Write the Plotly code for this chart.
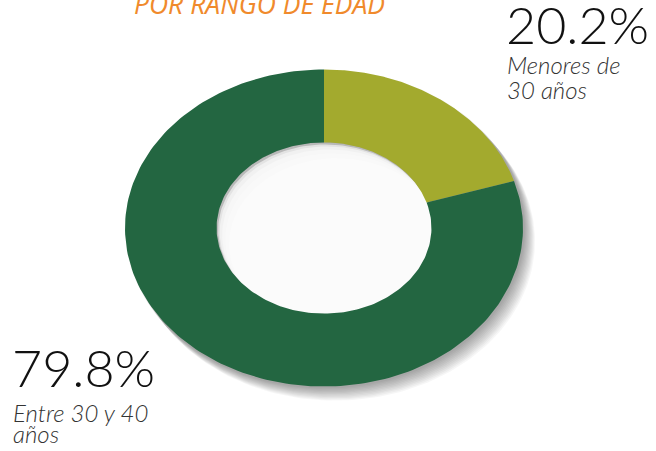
import numpy as np
import plotly.graph_objects as go

# data
labels = ["Menores de 30 años", "Entre 30 y 40 años"]
values = [20.2, 79.8]
colors = ["#a3aa2e", "#236641"]

# geometry (pixel space, y grows downward)
W, H = 656, 451
CX, CY = 324, 228
RX, RY = 199, 158.5
HOLE = 0.54


def ellipse(cx, cy, rx, ry, n=240):
    t = np.linspace(0, 2 * np.pi, n)
    return cx + rx * np.sin(t), cy - ry * np.cos(t)


def sector(a0, a1, n=200):
    t = np.linspace(a0, a1, n)
    xo = CX + RX * np.sin(t)
    yo = CY - RY * np.cos(t)
    xi = CX + RX * HOLE * np.sin(t[::-1])
    yi = CY - RY * HOLE * np.cos(t[::-1])
    return np.concatenate([xo, xi, xo[:1]]), np.concatenate([yo, yi, yo[:1]])


fig = go.Figure()

# soft outer shadow, offset down-right
for k in range(1, 12):
    x, y = ellipse(CX + 1.0 * k, CY + 1.2 * k, RX + 1, RY + 1)
    fig.add_trace(go.Scatter(x=x, y=y, mode="lines", fill="toself", line_width=0,
                             fillcolor="rgba(0,0,0,0.035)", hoverinfo="skip"))

# inner shadow of the hole (dark at upper-left edge)
x, y = ellipse(CX, CY, RX * HOLE, RY * HOLE)
fig.add_trace(go.Scatter(x=x, y=y, mode="lines", fill="toself", line_width=0,
                         fillcolor="#b9b9b9", hoverinfo="skip"))
for k, a in [(16, 0.35), (11, 0.35), (7, 0.4), (4, 0.5), (2, 0.6)]:
    x, y = ellipse(CX + 0.8 * k, CY + k, RX * HOLE, RY * HOLE)
    fig.add_trace(go.Scatter(x=x, y=y, mode="lines", fill="toself", line_width=0,
                             fillcolor=f"rgba(255,255,255,{a})", hoverinfo="skip"))

# donut slices, clockwise from 12 o'clock
total = sum(values)
start = 0.0
for lab, v, c in zip(labels, values, colors):
    end = start + 2 * np.pi * v / total
    x, y = sector(start, end)
    fig.add_trace(go.Scatter(x=x, y=y, mode="lines", fill="toself", line_width=0,
                             fillcolor=c, name=lab, hoverinfo="name"))
    start = end

num_font = dict(family="Lato", size=52, color="#111111", weight=300)
lab_font = dict(family="Lato", size=24, color="#333333", style="italic", weight=300)

ann = [
    dict(x=259, y=24, text="POR RANGO DE EDAD", yanchor="bottom", xanchor="center",
         font=dict(family="Open Sans", size=26.5, color="#f08a2c", style="italic")),
    dict(x=504, y=57, text=f"{values[0]}%", yanchor="bottom", font=num_font),
    dict(x=505, y=81, text="Menores de", yanchor="bottom", font=lab_font),
    dict(x=505, y=106, text="30 años", yanchor="bottom", font=lab_font),
    dict(x=10, y=400, text=f"{values[1]}%", yanchor="bottom", font=num_font),
    dict(x=11, y=429, text="Entre 30 y 40", yanchor="bottom", font=lab_font),
    dict(x=11, y=450, text="años", yanchor="bottom", font=lab_font),
]
for a in ann:
    a.setdefault("xanchor", "left")
    fig.add_annotation(xref="x", yref="y", showarrow=False, **a)

fig.update_layout(
    width=W, height=H, autosize=False,
    margin=dict(l=0, r=0, t=0, b=0),
    paper_bgcolor="white", plot_bgcolor="white",
    showlegend=False,
    xaxis=dict(range=[0, W], visible=False, fixedrange=True),
    yaxis=dict(range=[H, 0], visible=False, fixedrange=True),
)

fig.write_html("out.html", config={"displayModeBar": False},
               post_script="document.body.style.margin='0';")
